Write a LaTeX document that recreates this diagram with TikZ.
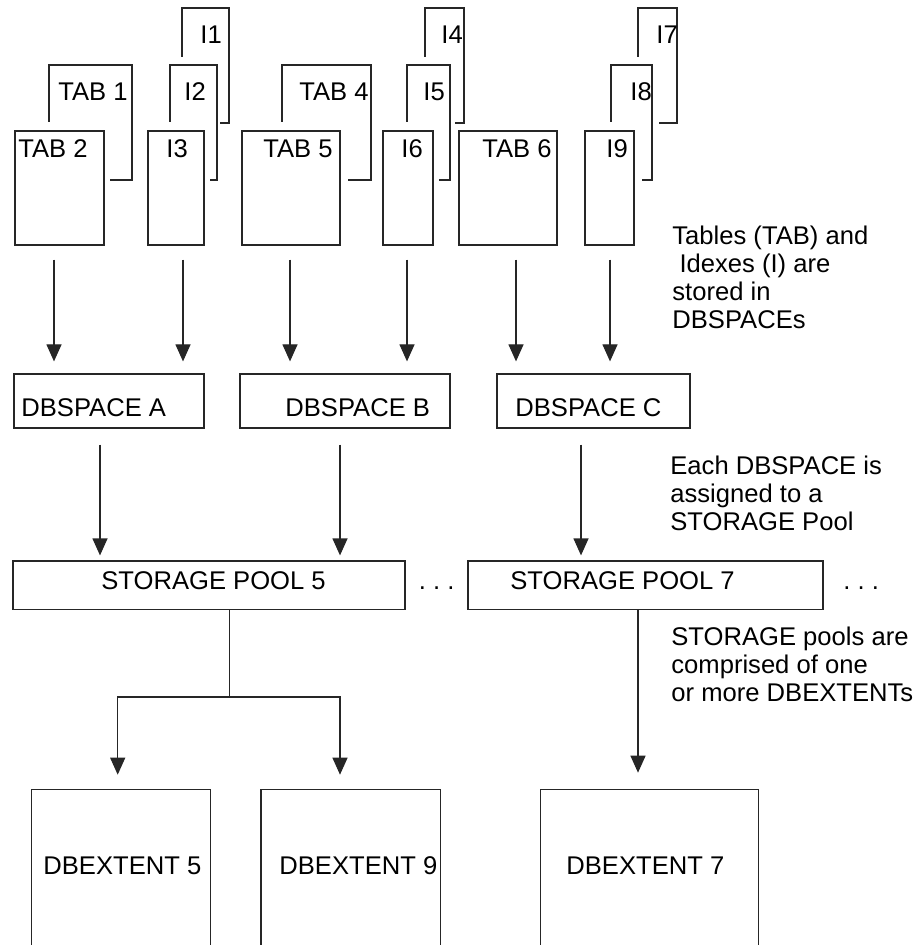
\documentclass[tikz,border=0pt]{standalone}
\usepackage{fontspec}
\setmainfont{Liberation Sans}
\usetikzlibrary{fit, arrows.meta}

\begin{document}
\begin{tikzpicture}[x=0.5pt, y=-0.5pt,
    wire/.style={draw=black!85, line width=0.6pt},
    box/.style={wire, inner sep=0pt},
    lbl/.style={anchor=base west, inner sep=0pt, font=\fontsize{12.8}{14}\selectfont},
    note/.style={lbl, align=left},
    arr/.style={wire, -{Triangle[width=7.5pt,length=8.5pt]}}]

    \useasboundingbox (0,0) rectangle (919,945);
    \clip (0,0) rectangle (919,945);

    % 1. far-back index sheets (only the visible edges)
    \foreach \nm/\xa/\xb/\xs/\txt/\tx in {i-1/182/229/220/I1/200, i-4/425/464/455/I4/441, i-7/638/677/659/I7/656} {
        \draw[wire] (\xa,57) |- (\xb,8) |- (\xs,123);
        \node[lbl] (\nm) at (\tx,44) {\txt};
    }

    % 2. middle sheets
    \foreach \nm/\xa/\xb/\xs/\txt/\tx in {tab-1/49/132/110/TAB 1/58, i-2/170/217/210/I2/184, tab-4/282/371/348/TAB 4/299, i-5/407/450/439/I5/423, i-8/611/652/642/I8/630} {
        \draw[wire] (\xa,122) |- (\xb,65) |- (\xs,180);
        \node[lbl] (\nm) at (\tx,101) {\txt};
    }

    % 3. front sheets
    \foreach \nm/\xa/\xb/\txt/\tx in {tab-2/15/104/TAB 2/18, i-3/148/204/I3/166, tab-5/242/340/TAB 5/263, i-6/383/433/I6/401, tab-6/459/557/TAB 6/482, i-9/585/634/I9/606} {
        \node[box, fit={(\xa,131) (\xb,245)}] (\nm) {};
        \node[lbl] (\nm-txt) at (\tx,158) {\txt};
    }

    % 4. DBSPACEs
    \foreach \nm/\xa/\xb/\txt/\tx in {db-A/14/204/DBSPACE A/21, db-B/240/450/DBSPACE B/285, db-C/497/690/DBSPACE C/515} {
        \node[box, fit={(\xa,374) (\xb,428)}] (\nm) {};
        \node[lbl] (\nm-txt) at (\tx,416.5) {\txt};
    }

    % 5. storage pools
    \node[box, fit={(13,561) (405,609.5)}] (pool-5) {};
    \node[lbl] (pool-5-txt) at (101,589) {STORAGE POOL 5};
    \node[box, fit={(468,561) (823,609.5)}] (pool-7) {};
    \node[lbl] (pool-7-txt) at (510,589) {STORAGE POOL 7};
    \node[lbl] (dots-5) at (418.5,589) {.\ .\ .};
    \node[lbl] (dots-7) at (843,589) {.\ .\ .};

    % 6. DBEXTENTs, open at the lower edge
    \foreach \nm/\xa/\xb/\txt/\tx in {ext-5/31.7/210.7/DBEXTENT 5/43, ext-9/261/440.3/DBEXTENT 9/279, ext-7/540.3/758.7/DBEXTENT 7/566} {
        \node[box, fit={(\xa,789.3) (\xb,990)}] (\nm) {};
        \node[lbl] (\nm-txt) at (\tx,874.5) {\txt};
    }

    % 7. notes on the right (placed by the baseline of their last line)
    \node[note] (note-1) at (672,329) {Tables (TAB) and\\\ Idexes (I) are\\stored in\\DBSPACEs};
    \node[note] (note-2) at (670,530) {Each DBSPACE is\\assigned to a\\STORAGE Pool};
    \node[note] (note-3) at (671,701.5) {STORAGE pools are\\comprised of one\\or more DBEXTENTs};

    % 8. sheets -> DBSPACEs
    \foreach \a/\b/\xx in {tab-2/db-A/54, i-3/db-A/183, tab-5/db-B/290, i-6/db-B/407, tab-6/db-C/516, i-9/db-C/610} {
        \draw[arr, shorten <=7pt, shorten >=6pt] (\a.south -| \xx,0) -- (\b.north -| \xx,0);
    }

    % 9. DBSPACEs -> pools
    \foreach \a/\b/\xx in {db-A/pool-5/100, db-B/pool-5/340, db-C/pool-7/581} {
        \draw[arr, shorten <=8pt, shorten >=2.5pt] (\a.south -| \xx,0) -- (\b.north -| \xx,0);
    }

    % 10. pools -> DBEXTENTs
    \coordinate (split-5) at (229.7,697);
    \draw[wire] (pool-5.south -| split-5) -- (split-5);
    \draw[arr, shorten >=7pt] (split-5) -| (ext-5.north -| 117.7,0);
    \draw[arr, shorten >=7pt] (split-5) -| (ext-9.north -| 340,0);
    \draw[arr, shorten >=8pt] (pool-7.south -| 638,0) -- (ext-7.north -| 638,0);
\end{tikzpicture}
\end{document}
